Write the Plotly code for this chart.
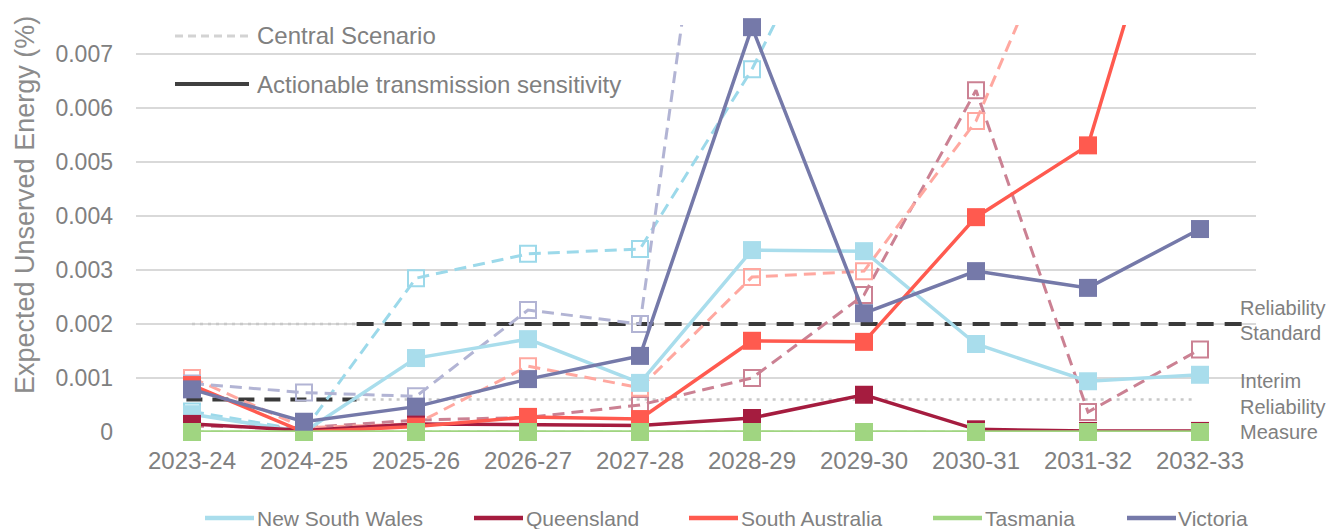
import plotly.graph_objects as go

# ---------------- data ----------------
categories = ["2023-24", "2024-25", "2025-26", "2026-27", "2027-28",
              "2028-29", "2029-30", "2030-31", "2031-32", "2032-33"]

# Actionable transmission sensitivity (solid lines, filled squares)
nsw_ats = [0.00033, 0.00000, 0.00137, 0.00172, 0.00091, 0.00337, 0.00335, 0.00163, 0.00094, 0.00106]
qld_ats = [0.00015, 0.00003, 0.00015, 0.00013, 0.00012, 0.00026, 0.00069, 0.00005, 0.00002, 0.00002]
sa_ats = [0.00087, 0.00000, 0.00010, 0.00028, 0.00024, 0.00169, 0.00167, 0.00398, 0.00531, 0.01220]
tas_ats = [0.0, 0.0, 0.0, 0.0, 0.0, 0.0, 0.0, 0.0, 0.0, 0.0]
vic_ats = [0.00079, 0.00019, 0.00047, 0.00098, 0.00141, 0.00750, 0.00220, 0.00298, 0.00267, 0.00376]

# Central Scenario (dashed lines, hollow squares)
nsw_central = [0.00038, 0.00003, 0.00285, 0.00330, 0.00339, 0.00672, 0.01090, 0.01150, 0.01050, 0.01120]
qld_central = [0.00011, 0.00008, 0.00022, 0.00027, 0.00050, 0.00100, 0.00254, 0.00633, 0.00037, 0.00153]
sa_central = [0.00100, 0.00008, 0.00015, 0.00122, 0.00082, 0.00287, 0.00298, 0.00576, 0.01060, 0.01150]
tas_central = [0.0, 0.0, 0.0, 0.0, 0.0, 0.0, 0.0, 0.0, 0.0, 0.0]
vic_central = [0.00090, 0.00073, 0.00066, 0.00226, 0.00200, 0.01690, 0.01500, 0.01400, 0.01300, 0.01200]

regions = ["New South Wales", "Queensland", "South Australia", "Tasmania", "Victoria"]

y_ticks = [0, 0.001, 0.002, 0.003, 0.004, 0.005, 0.006, 0.007]
y_ticktext = ["0", "0.001", "0.002", "0.003", "0.004", "0.005", "0.006", "0.007"]

reliability_standard = 0.002
interim_measure = 0.0006

# ---------------- styling ----------------
FONT = "Liberation Sans, Arial, sans-serif"
GREY = "#808080"
solid_colors = ["#A9DDEC", "#A51C3F", "#FF5A4F", "#A0D581", "#7579A9"]
dash_colors = ["#9CD9EA", "#CB8193", "#FFA8A0", "#C5E6B3", "#B2B4D4"]

OFF = 8  # page body margin
W, H = 1335 - OFF, 529 - OFF
L, R, T, B = 136 - OFF, 1256 - OFF, 25 - OFF, 432 - OFF  # plot area in figure pixels


def px_x(px):
    # px given in screenshot coordinates
    return (px - OFF - L) / (R - L)


def px_y(py):
    return (B - (py - OFF)) / (B - T)


x = list(range(len(categories)))
ats = [nsw_ats, qld_ats, sa_ats, tas_ats, vic_ats]
central = [nsw_central, qld_central, sa_central, tas_central, vic_central]

fig = go.Figure()

for name, vals, col in zip(regions, central, dash_colors):
    fig.add_trace(go.Scatter(
        x=x, y=vals, mode="lines+markers", name=name + " (Central)",
        line=dict(color=col, width=3, dash="12px,7px"),
        marker=dict(symbol="square-open", size=16, color=col, line=dict(width=2, color=col)),
        showlegend=False, cliponaxis=True,
    ))

for name, vals, col in zip(regions, ats, solid_colors):
    fig.add_trace(go.Scatter(
        x=x, y=vals, mode="lines+markers", name=name,
        line=dict(color=col, width=3.5),
        marker=dict(symbol="square", size=18, color=col),
        showlegend=False, cliponaxis=(max(vals) > 0.00754),
    ))

shapes = []
# reference lines
shapes.append(dict(type="line", xref="x", yref="y", x0=-0.05, x1=1.47,
                   y0=interim_measure, y1=interim_measure,
                   line=dict(color="#3A3A3A", width=4, dash="16px,10px"), layer="between"))
shapes.append(dict(type="line", xref="x", yref="y", x0=1.47, x1=8.95,
                   y0=interim_measure, y1=interim_measure,
                   line=dict(color="#C8C8C8", width=2.5, dash="3px,5px"), layer="between"))
shapes.append(dict(type="line", xref="x", yref="y", x0=0.0, x1=1.47,
                   y0=reliability_standard, y1=reliability_standard,
                   line=dict(color="#C8C8C8", width=2.5, dash="3px,5px"), layer="between"))
shapes.append(dict(type="line", xref="x", yref="y", x0=1.47, x1=9.38,
                   y0=reliability_standard, y1=reliability_standard,
                   line=dict(color="#3A3A3A", width=4, dash="17px,11px"), layer="between"))

# top legend samples
shapes.append(dict(type="line", xref="paper", yref="paper", x0=px_x(175), x1=px_x(249),
                   y0=px_y(36), y1=px_y(36), line=dict(color="#D3D3D3", width=3, dash="8px,5px")))
shapes.append(dict(type="line", xref="paper", yref="paper", x0=px_x(175), x1=px_x(249),
                   y0=px_y(84), y1=px_y(84), line=dict(color="#404040", width=4)))

# bottom legend samples
legend_line_x = [205, 474, 689, 933, 1127]
legend_text_x = [257, 526, 741, 985, 1178]
legend_y = 518
for lx, col in zip(legend_line_x, solid_colors):
    shapes.append(dict(type="line", xref="paper", yref="paper", x0=px_x(lx), x1=px_x(lx + 49),
                       y0=px_y(legend_y), y1=px_y(legend_y), line=dict(color=col, width=4.5)))

annotations = []
annotations.append(dict(text="Central Scenario", xref="paper", yref="paper", x=px_x(255), y=px_y(36),
                        xanchor="left", yanchor="middle", showarrow=False,
                        font=dict(family=FONT, size=24, color=GREY)))
annotations.append(dict(text="Actionable transmission sensitivity", xref="paper", yref="paper",
                        x=px_x(255), y=px_y(84), xanchor="left", yanchor="middle", showarrow=False,
                        font=dict(family=FONT, size=24, color=GREY)))
for tx, name in zip(legend_text_x, regions):
    annotations.append(dict(text=name, xref="paper", yref="paper", x=px_x(tx - 2), y=px_y(legend_y),
                            xanchor="left", yanchor="middle", showarrow=False,
                            font=dict(family=FONT, size=21, color=GREY)))

right_labels = [("Reliability", 308), ("Standard", 333), ("Interim", 381),
                ("Reliability", 407), ("Measure", 432)]
for txt, py in right_labels:
    annotations.append(dict(text=txt, xref="paper", yref="paper", x=px_x(1238), y=px_y(py),
                            xanchor="left", yanchor="middle", showarrow=False,
                            font=dict(family=FONT, size=20, color=GREY)))

annotations.append(dict(text="Expected Unserved Energy (%)", xref="paper", yref="paper",
                        x=px_x(25), y=px_y(205), xanchor="center", yanchor="middle",
                        textangle=-90, showarrow=False,
                        font=dict(family=FONT, size=27, color="#8C8C8C")))

fig.update_layout(
    width=W, height=H,
    margin=dict(l=L, r=W - R, t=T, b=H - B, pad=0),
    paper_bgcolor="white", plot_bgcolor="white",
    showlegend=False,
    shapes=shapes, annotations=annotations,
    font=dict(family=FONT, color=GREY),
    xaxis=dict(range=[-0.5, 9.5], tickvals=x, ticktext=categories, showgrid=False,
               zeroline=False, showline=False, ticks="", ticklabelstandoff=12,
               tickfont=dict(family=FONT, size=24, color=GREY)),
    yaxis=dict(range=[0, 0.00754], tickvals=y_ticks, ticktext=y_ticktext, showgrid=True,
               gridcolor="#D9D9D9", gridwidth=2, zeroline=False, showline=False, ticks="",
               ticklabelstandoff=22, tickfont=dict(family=FONT, size=23, color=GREY)),
)

fig.write_html("out.html")
